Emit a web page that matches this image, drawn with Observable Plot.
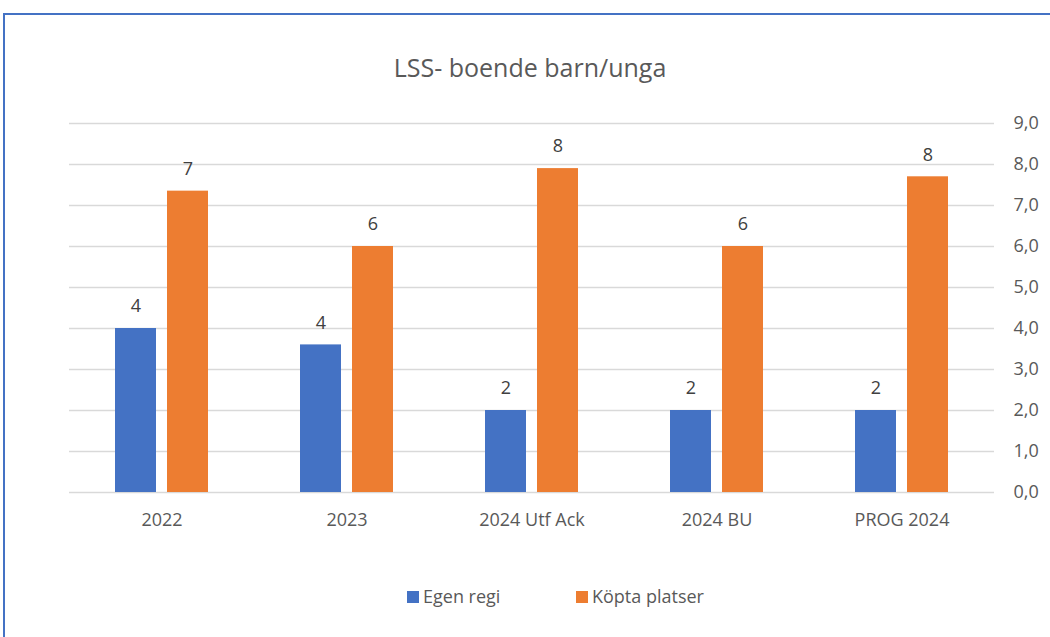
<!DOCTYPE html>
<html>
<head>
<meta charset="utf-8">
<script src="https://cdn.jsdelivr.net/npm/d3@7"></script>
<script src="https://cdn.jsdelivr.net/npm/@observablehq/plot@0.6"></script>
<style>
  html, body { margin: 0; padding: 0; background: #fff; width: 1050px; height: 637px; overflow: hidden; font-family: "Open Sans", Lato, sans-serif; }
  #frame { position: absolute; left: 3px; top: 13px; width: 1100px; height: 700px; border-top: 2px solid #4472C4; border-left: 2px solid #4472C4; box-sizing: border-box; z-index: 5; pointer-events: none; }
  #title { position: absolute; left: 0; top: 52px; width: 1060px; text-align: center; font-size: 25px; line-height: 30px; color: #595959; }
  #chart { position: absolute; left: 0; top: 100px; }
  .leg { position: absolute; top: 586px; font-size: 18px; line-height: 20px; color: #595959; white-space: nowrap; }
  .sw { display: inline-block; width: 12px; height: 12px; margin-right: 4px; vertical-align: 0; }
</style>
</head>
<body>
<div id="frame"></div>
<div id="title">LSS- boende barn/unga</div>
<div id="chart"></div>
<div class="leg" style="left:407px"><span class="sw" style="background:#4472C4"></span>Egen regi</div>
<div class="leg" style="left:576px"><span class="sw" style="background:#ED7D31"></span>Köpta platser</div>
<script>
const categories = ["2022", "2023", "2024 Utf Ack", "2024 BU", "PROG 2024"];
const seriesNames = ["Egen regi", "Köpta platser"];
const egenRegi = [4.0, 3.6, 2.0, 2.0, 2.0];
const koptaPlatser = [7.35, 6.0, 7.9, 6.0, 7.7];
const yTicks = [0, 1, 2, 3, 4, 5, 6, 7, 8, 9];
const colors = ["#4472C4", "#ED7D31"];

const data = [];
categories.forEach((c, i) => {
  data.push({category: c, series: seriesNames[0], value: egenRegi[i]});
  data.push({category: c, series: seriesNames[1], value: koptaPlatser[i]});
});

const chart = Plot.plot({
  width: 1050,
  height: 450,
  marginLeft: 69,
  marginRight: 56,
  marginTop: 23,
  marginBottom: 58,
  style: {fontFamily: "'Open Sans', Lato, sans-serif", fontSize: "18px", color: "#595959", background: "transparent"},
  fx: {domain: categories, padding: 0, label: null, tickSize: 0, tickPadding: 21, axis: "bottom"},
  x: {domain: seriesNames, axis: null, paddingInner: 0.21, paddingOuter: 0.867},
  y: {domain: [0, 9], ticks: yTicks, tickFormat: d => d.toFixed(1).replace(".", ","), axis: "right", tickSize: 0, tickPadding: 19, label: null},
  color: {domain: seriesNames, range: colors},
  marks: [
    Plot.ruleY(yTicks, {stroke: "#d9d9d9", strokeWidth: 1.3, strokeOpacity: 1}),
    Plot.barY(data, {fx: "category", x: "series", y: "value", fill: "series"}),
    Plot.text(data, {fx: "category", x: "series", y: "value", text: d => String(Math.round(d.value)), dy: -22, fill: "#404040", fontSize: 18})
  ]
});
document.getElementById("chart").appendChild(chart);
</script>
</body>
</html>
